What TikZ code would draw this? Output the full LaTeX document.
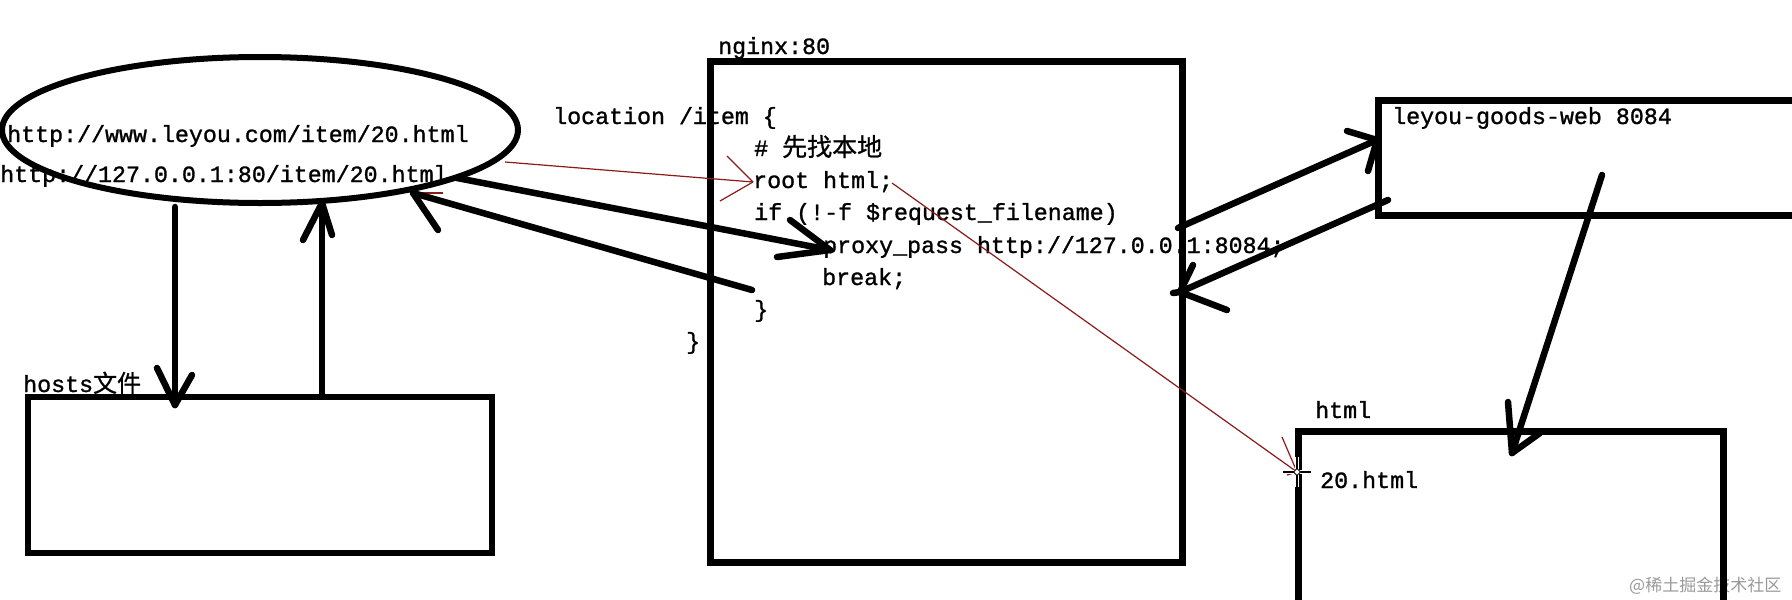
\documentclass[tikz,border=0pt]{standalone}
\usepackage{fontspec}
\newfontfamily\mono[FakeBold=1.2]{Liberation Mono}
\newfontfamily\cjk[FakeBold=0.8]{Noto Sans CJK SC}
\newfontfamily\cjkplain{Noto Sans CJK SC}
\usetikzlibrary{shapes.geometric}
\definecolor{rline}{HTML}{8B1A1A}
\definecolor{wmark}{HTML}{9A9A9A}
\begin{document}
\begin{tikzpicture}[x=1pt,y=-1pt,
  box/.style={draw, rectangle, line width=7pt, inner sep=0pt},
  blk/.style={line width=6.5pt, line cap=round, line join=round},
  redl/.style={draw=rline, line width=1.2pt},
  txt/.style={anchor=base west, inner sep=0pt, font=\mono\fontsize{23.3}{28}\selectfont}]
\useasboundingbox (0,0) rectangle (1792,600);
\clip (0,0) rectangle (1792,600);
\fill[white] (0,0) rectangle (1792,600);

% ---------- texts ----------
\node[txt] (t1) at (7,142) {http://www.leyou.com/item/20.html};
\node[txt] (t2) at (0,182) {http://127.0.0.1:80/item/20.html};
\node[txt] (hostslbl) at (23,392) {hosts{\cjk\fontsize{24}{28}\selectfont 文件}};
\node[txt] (nginxlbl) at (718,54) {nginx:80};
\node[txt] (c1) at (553,124) {location /item \{};
\node[txt] (c2) at (754,156) {\#~{\cjk\fontsize{25}{28}\selectfont 先找本地}};
\node[txt] (c3) at (753,188) {root html;};
\node[txt] (c4) at (754,220) {if (!-f \$request\_filename)};
\node[txt] (c5) at (823,253) {proxy\_pass http://127.0.0.1:8084;};
\node[txt] (c6) at (822,285) {break;};
\node[txt] (c7) at (754,317) {\}};
\node[txt] (c8) at (686,349) {\}};
\node[txt] (leyoulbl) at (1392,124) {leyou-goods-web 8084};
\node[txt] (htmllbl) at (1315,418) {html};
\node[txt] (file) at (1320,488) {20.html};
\node[anchor=base west, inner sep=0pt, text=wmark, font=\cjkplain\fontsize{17}{20}\selectfont] (wm) at (1629,591) {@稀土掘金技术社区};

% ---------- shapes ----------
\node[draw, ellipse, line width=6pt, minimum width=516pt, minimum height=146pt, inner sep=0pt] (browser) at (260,130) {};
\node[box, line width=6pt, minimum width=464pt, minimum height=156pt] (hosts) at (260,475) {};
\node[box, minimum width=472pt, minimum height=501pt] (nginx) at (946,311.5) {};
\node[box, minimum width=452pt, minimum height=115pt] (leyou) at (1604,157.5) {};
\node[box, minimum width=425pt, minimum height=220pt] (htmlbox) at (1510.5,541) {};

% ---------- connector end points ----------
\coordinate (a1s) at (175,207);  \coordinate (a1e) at (175,405);
\coordinate (a2s) at (322,395);  \coordinate (a2e) at (322,203);
\coordinate (a3s) at (457,178);  \coordinate (a3e) at (830,250);
\coordinate (a4s) at (752,290);  \coordinate (a4e) at (413,193);
\coordinate (a5s) at (1178,228); \coordinate (a5e) at (1377,140);
\coordinate (a6s) at (1388,200); \coordinate (a6e) at (1180,292);
\coordinate (a7s) at (1602,175); \coordinate (a7e) at (1512,453);
\coordinate (r1s) at (505,162);  \coordinate (r1e) at (753,182);
\coordinate (r2s) at (892,183);  \coordinate (r2e) at (1297,472);

% ---------- red thin arrows ----------
\draw[redl] (r1s) -- (r1e);
\draw[redl] (r1e) -- ++(-26,-26);
\draw[redl] (r1e) -- ++(-33,19);
\draw[redl] (r2s) -- (r2e);
\draw[redl] (r2e) -- ++(-15,-35);
\draw[redl] (r2e) -- ++(-10,3);
\draw[redl] (a4e) -- ++(30,0);

% ---------- black hand-drawn arrows ----------
\draw[blk] (a1s) -- (a1e);
\draw[blk] (a1e) -- ++(-18,-37);
\draw[blk] (a1e) -- ++(17,-30);

\draw[blk] (a2s) -- (a2e);
\draw[blk] (a2e) -- ++(-19,37);
\draw[blk] (a2e) -- ++(10,32);

\draw[blk] (a3s) -- (a3e);
\draw[blk] (a3e) -- ++(-40,-30);
\draw[blk] (a3e) -- ++(-53,7);

\draw[blk] (a4s) -- (a4e);
\draw[blk] (a4e) -- ++(25,37);

\draw[blk] (a5s) -- (a5e);
\draw[blk] (a5e) -- ++(-30,-9);
\draw[blk] (a5e) -- ++(-9,31);

\draw[blk] (a6s) -- (a6e);
\draw[blk] (a6e) -- ++(13,-27);
\draw[blk] (a6e) -- ++(47,18);
\draw[blk] (a6e) -- ++(-7,1);

\draw[blk] (a7s) -- (a7e);
\draw[blk] (a7e) -- ++(-4,-51);
\draw[blk] (a7e) -- ++(28,-20);

% ---------- mouse cursor ----------
\coordinate (cur) at (r2e);
\draw[line width=4pt, white] ([xshift=-14pt]cur) -- ([xshift=14pt]cur);
\draw[line width=1.2pt, black] ([xshift=-14pt]cur) -- ([xshift=14pt]cur);
\draw[line width=4pt, white] ([yshift=-15pt]cur) -- ([yshift=15pt]cur);
\draw[line width=1.2pt, black] ([yshift=-15pt]cur) -- ([yshift=15pt]cur);
\draw[fill=white, line width=1pt] ([xshift=-3.5pt]cur) -- ([yshift=3.5pt]cur) -- ([xshift=3.5pt]cur) -- ([yshift=-3.5pt]cur) -- cycle;
\end{tikzpicture}
\end{document}
